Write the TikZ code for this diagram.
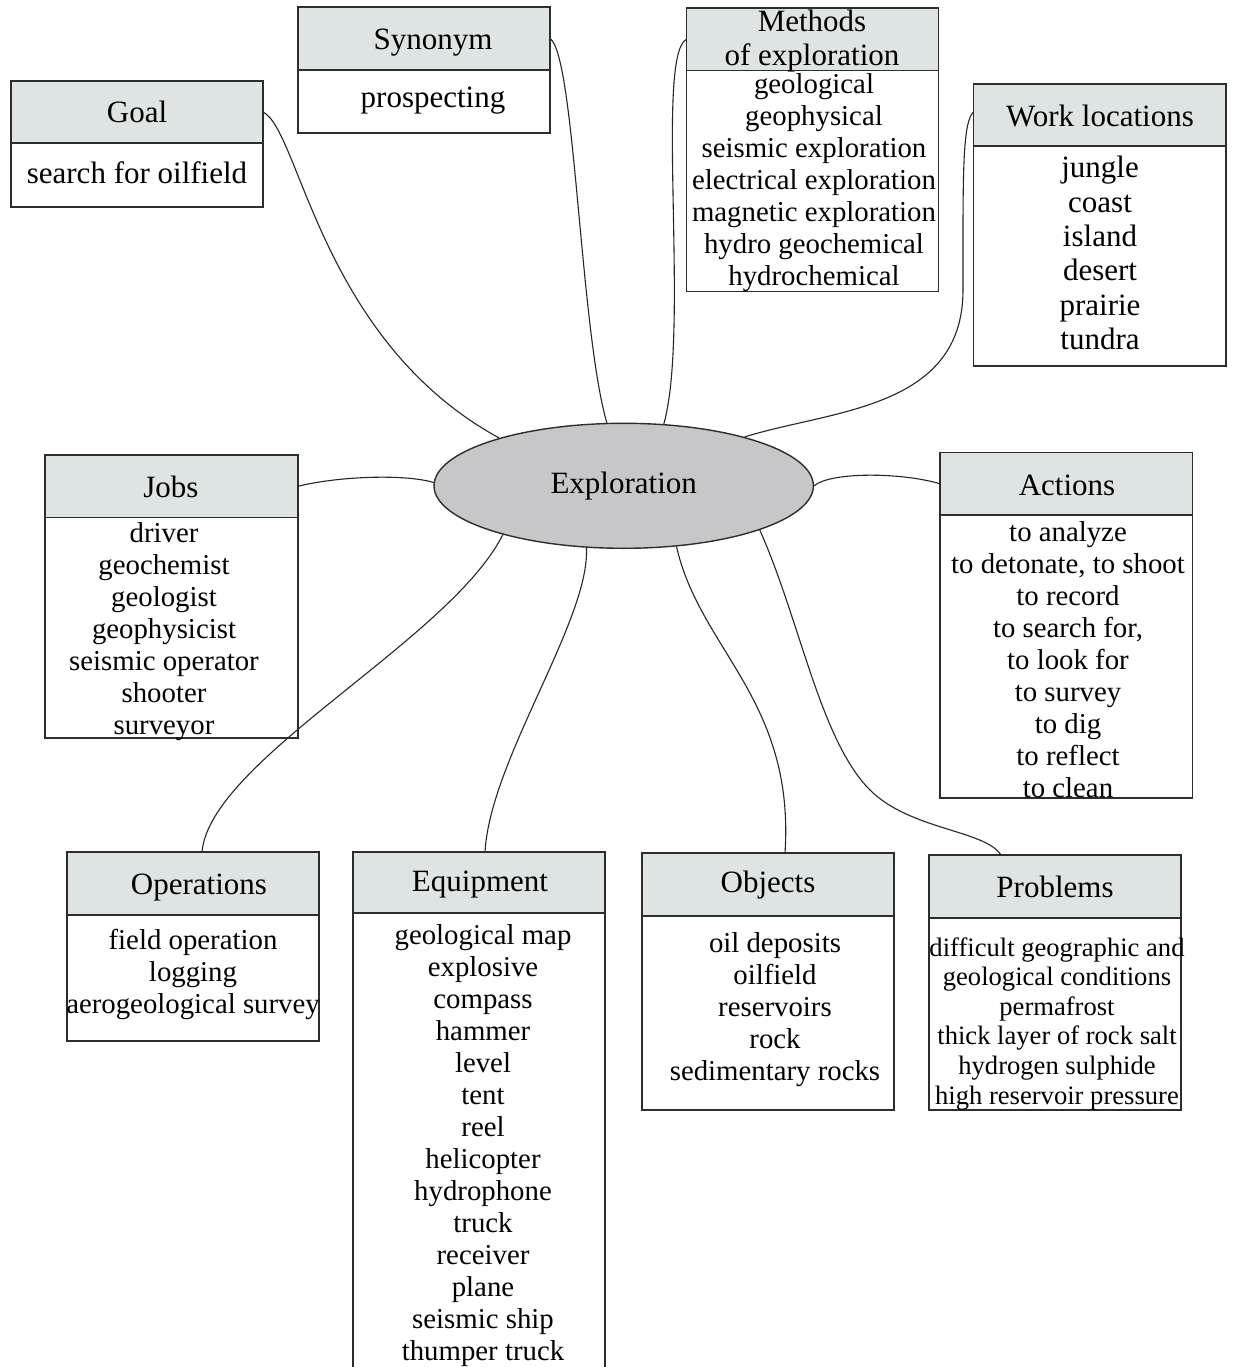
\documentclass[tikz,border=0pt]{standalone}
\usepackage{fontspec}
\setmainfont{Liberation Serif}
\usetikzlibrary{shapes.geometric}

\definecolor{headc}{RGB}{222,228,227}
\definecolor{ellc}{RGB}{199,199,201}
\definecolor{linec}{RGB}{45,45,45}

% struts: fixed height/depth for first and last lines of a text block
\newcommand\hstrut{\rule[-6pt]{0pt}{32pt}}
\newcommand\mstrut{\rule[-8.5pt]{0pt}{34pt}}
\newcommand\bstrut{\rule[-9pt]{0pt}{32pt}}
\newcommand\lstrut{\rule[-10pt]{0pt}{34.4pt}}
\newcommand\sstrut{\rule[-8.6pt]{0pt}{29.6pt}}

\tikzset{
  frame/.style={draw=linec, line width=1.4pt, minimum width=252pt, inner sep=0pt, outer sep=0pt},
  headbox/.style={frame, fill=headc},
  hdtxt/.style={font=\fontsize{31}{32}\selectfont, inner sep=0pt, align=center,
    execute at begin node=\hstrut, execute at end node=\hstrut},
  mdtxt/.style={font=\fontsize{31}{34}\selectfont, inner sep=0pt, align=center,
    execute at begin node=\mstrut, execute at end node=\mstrut},
  bdtxt/.style={font=\fontsize{28.8}{32}\selectfont, inner sep=0pt, align=center,
    execute at begin node=\bstrut, execute at end node=\bstrut},
  bdbig/.style={font=\fontsize{31}{34.4}\selectfont, inner sep=0pt, align=center,
    execute at begin node=\lstrut, execute at end node=\lstrut},
  bdsmall/.style={font=\fontsize{26.6}{29.6}\selectfont, inner sep=0pt, align=center,
    execute at begin node=\sstrut, execute at end node=\sstrut},
  link/.style={draw=black!85, line width=1.1pt}
}

\begin{document}
\begin{tikzpicture}[x=1pt,y=-1pt]
\useasboundingbox[fill=white] (0,0) rectangle (1234,1367);

% central topic
\node[ellipse, draw=linec, line width=1.4pt, fill=ellc, minimum width=379.4pt,
      minimum height=125pt, inner sep=0pt, font=\fontsize{31}{32}\selectfont]
      (ex) at (623.7,485.8) {Exploration};

% Goal
\node[frame, minimum height=64pt] (goalB) at (137,175) {};
\node[headbox, minimum height=62pt] (goalH) at (137,112) {};
\node[hdtxt] (goalT) at (137,113) {Goal};
\node[bdbig] (goalL) at (137,176) {search for oilfield};

% Synonym
\node[frame, minimum height=63pt] (synB) at (424,101.5) {};
\node[headbox, minimum height=63pt] (synH) at (424,38.5) {};
\node[hdtxt] (synT) at (433,39.5) {Synonym};
\node[bdbig] (synL) at (433,100.5) {prospecting};

% Methods of exploration
\node[frame, minimum height=221pt] (metB) at (812.5,181) {};
\node[headbox, minimum height=62.5pt] (metH) at (812.5,39.25) {};
\node[mdtxt] (metT) at (812,42) {Methods\\of exploration};
\node[bdtxt] (metL) at (814,184) {geological\\geophysical\\seismic exploration\\electrical exploration\\magnetic exploration\\hydro geochemical\\hydrochemical};

% Work locations
\node[frame, minimum width=252.5pt, minimum height=220pt] (wlB) at (1099.75,256) {};
\node[headbox, minimum width=252.5pt, minimum height=62pt] (wlH) at (1099.75,115) {};
\node[hdtxt] (wlT) at (1100,116.5) {Work locations};
\node[bdbig] (wlL) at (1100,258) {jungle\\coast\\island\\desert\\prairie\\tundra};

% Jobs
\node[frame, minimum width=253pt, minimum height=220.5pt] (jobsB) at (171.5,627.75) {};
\node[headbox, minimum width=253pt, minimum height=62.5pt] (jobsH) at (171.5,486.25) {};
\node[hdtxt] (jobsT) at (171,487.25) {Jobs};
\node[bdtxt] (jobsL) at (164,633) {driver\\geochemist\\geologist\\geophysicist\\seismic operator\\shooter\\surveyor};

% Actions
\node[frame, minimum width=252.5pt, minimum height=283pt] (actB) at (1066.25,656.5) {};
\node[headbox, minimum width=252.5pt, minimum height=62.5pt] (actH) at (1066.25,483.75) {};
\node[hdtxt] (actT) at (1067,485.5) {Actions};
\node[bdtxt] (actL) at (1068,664) {to analyze\\to detonate, to shoot\\to record\\to search for,\\to look for\\to survey\\to dig\\to reflect\\to clean};

% Operations
\node[frame, minimum height=126pt] (opB) at (193,978) {};
\node[headbox, minimum height=63pt] (opH) at (193,883.5) {};
\node[hdtxt] (opT) at (199,884.5) {Operations};
\node[bdtxt] (opL) at (193,976) {field operation\\logging\\aerogeological survey};

% Equipment (runs past the lower edge)
\node[frame, minimum height=487pt] (eqB) at (479,1156.5) {};
\node[headbox, minimum height=61pt] (eqH) at (479,882.5) {};
\node[hdtxt] (eqT) at (480,881.5) {Equipment};
\node[bdtxt] (eqL) at (483,1146.5) {geological map\\explosive\\compass\\hammer\\level\\tent\\reel\\helicopter\\hydrophone\\truck\\receiver\\plane\\seismic ship\\thumper truck};

% Objects
\node[frame, minimum height=194pt] (objB) at (768,1013) {};
\node[headbox, minimum height=63pt] (objH) at (768,884.5) {};
\node[hdtxt] (objT) at (768,883) {Objects};
\node[bdtxt] (objL) at (775,1011) {oil deposits\\oilfield\\reservoirs\\rock\\sedimentary rocks};

% Problems
\node[frame, minimum height=192pt] (probB) at (1055,1014) {};
\node[headbox, minimum height=63pt] (probH) at (1055,886.5) {};
\node[hdtxt] (probT) at (1055,887.5) {Problems};
\node[bdsmall] (probL) at (1057,1025) {difficult geographic and\\geological conditions\\permafrost\\thick layer of rock salt\\hydrogen sulphide\\high reservoir pressure};

% attachment points on the lower boxes
\coordinate (opIn) at ([xshift=9pt]opH.north);
\coordinate (eqIn) at ([xshift=6pt]eqH.north);
\coordinate (objIn) at ([xshift=17pt]objH.north);
\coordinate (probIn) at ([xshift=-54pt]probH.north);

% connectors
\draw[link] (goalH.east) .. controls (300,130) and (320,340) .. (ex.159);
\draw[link] (synH.east) .. controls (575,55) and (580,330) .. (ex.105);
\draw[link] (metH.west) .. controls (655,55) and (690,330) .. (ex.57);
\draw[link] ([yshift=3pt]wlH.west) .. controls (962,122) and (963,180) .. (963,290)
                 .. controls (963,410) and (830,410) .. (ex.22);
\draw[link] (jobsH.east) .. controls (340,476) and (405,474) .. (ex.179.5);
\draw[link] (ex.0.5) .. controls (830,472) and (900,472) .. (actH.west);
\draw[link] (ex.-158.8) .. controls (450,640) and (210,760) .. (opIn);
\draw[link] (ex.-121.2) .. controls (590,620) and (490,760) .. (eqIn);
\draw[link] (ex.-49) .. controls (700,650) and (795,700) .. (objIn);
\draw[link] (ex.-18) .. controls (800,620) and (820,740) .. (870,790)
                 .. controls (910,830) and (985,830) .. (probIn);
\end{tikzpicture}
\end{document}
